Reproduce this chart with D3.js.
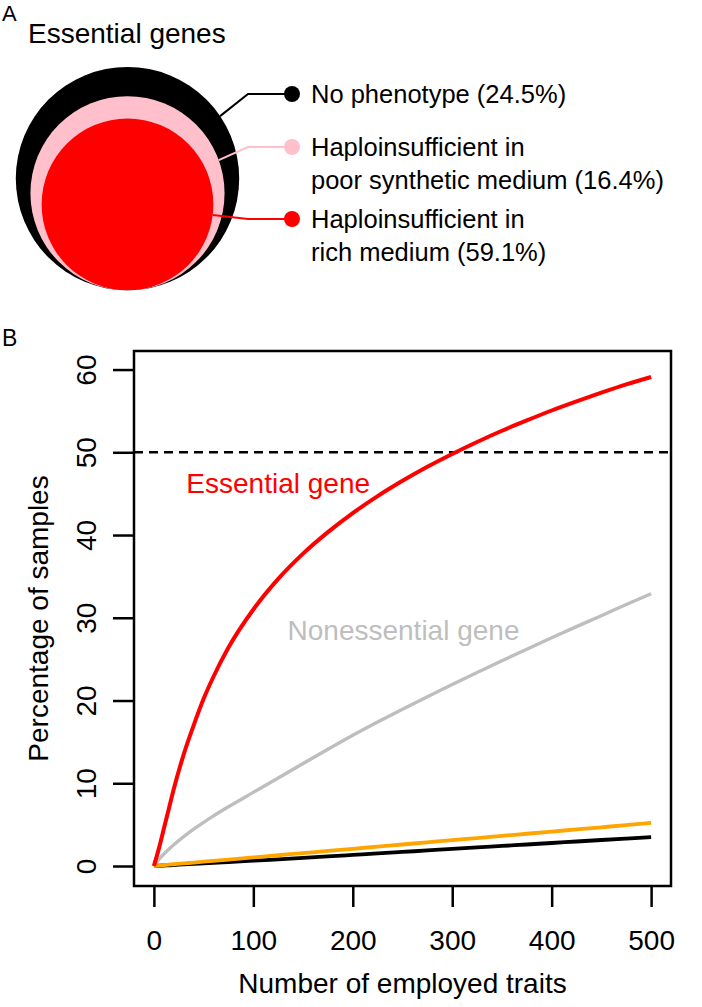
<!DOCTYPE html>
<html>
<head>
<meta charset="utf-8">
<script src="https://cdn.jsdelivr.net/npm/d3@7/dist/d3.min.js"></script>
<style>
  html, body { margin: 0; padding: 0; background: #fff; }
  svg { display: block; font-family: "Liberation Sans", Arial, Helvetica, sans-serif; }
</style>
</head>
<body>
<svg id="chart" width="702" height="1007"></svg>
<script>
// ---------- Panel A data ----------
const groupLabels = [
  ["No phenotype (24.5%)"],
  ["Haploinsufficient in", "poor synthetic medium (16.4%)"],
  ["Haploinsufficient in", "rich medium (59.1%)"]
];
const groupPercents = [24.5, 16.4, 59.1];   // black, pink, red
const groupColors = ["#000000", "#FFC0CB", "#FF0000"];

// ---------- Panel B data ----------
const traitCounts = [0, 5, 10, 15, 20, 30, 40, 50, 60, 75, 100, 125, 150, 175, 200, 225, 250, 275, 300, 325, 350, 375, 400, 425, 450, 475, 500];
const essentialPct = [0, 2.1, 4.5, 6.9, 9.3, 13.5, 17.0, 20.2, 22.9, 26.4, 31.0, 34.7, 37.75, 40.35, 42.65, 44.7, 46.55, 48.25, 49.8, 51.25, 52.6, 53.85, 55.05, 56.15, 57.2, 58.2, 59.1];
const nonessentialPct = [0, 0.8, 1.45, 2.03, 2.57, 3.55, 4.45, 5.28, 6.06, 7.16, 8.9, 10.63, 12.38, 14.1, 15.8, 17.4, 18.95, 20.45, 21.93, 23.38, 24.8, 26.2, 27.58, 28.93, 30.25, 31.6, 32.9];
const orangePct = [0, 0.05, 0.10, 0.16, 0.21, 0.31, 0.42, 0.52, 0.62, 0.78, 1.04, 1.30, 1.56, 1.82, 2.08, 2.34, 2.60, 2.86, 3.12, 3.38, 3.64, 3.90, 4.16, 4.42, 4.68, 4.94, 5.2];
const blackPct = [0, 0.03, 0.06, 0.09, 0.12, 0.19, 0.25, 0.32, 0.38, 0.48, 0.64, 0.81, 0.98, 1.16, 1.34, 1.52, 1.70, 1.88, 2.06, 2.24, 2.42, 2.60, 2.78, 2.96, 3.14, 3.32, 3.5];
const xTicks = [0, 100, 200, 300, 400, 500];
const yTicks = [0, 10, 20, 30, 40, 50, 60];
const thresholdPct = 50;
const seriesNames = ["Nonessential gene", "Black", "Orange", "Essential gene"];
const seriesColors = ["#BEBEBE", "#000000", "#FFA500", "#FF0000"];
const seriesWidths = [3.4, 3.8, 3.8, 4];
const curveLabels = [
  { text: "Essential gene", x: 125, y: 46.3, color: "#FF0000" },
  { text: "Nonessential gene", x: 251, y: 28.5, color: "#BEBEBE" }
];

const svg = d3.select("#chart");

// ================= Panel A =================
svg.append("text").attr("x", 2).attr("y", 21).attr("font-size", 22).text("A");
svg.append("text").attr("x", 28).attr("y", 43).attr("font-size", 28).text("Essential genes");

const cumulative = [100, groupPercents[1] + groupPercents[2], groupPercents[2]];
const rScale = d3.scaleSqrt().domain([0, 100]).range([0, 111.7]);
const cX = 127.5, bottomY = 290.3;

svg.append("g").selectAll("circle").data(cumulative).join("circle")
  .attr("cx", cX)
  .attr("cy", d => bottomY - rScale(d))
  .attr("r", d => rScale(d))
  .attr("fill", (d, i) => groupColors[i]);

const angles = [-34, -20, 7];
const dotYs = [94, 147, 219];
const dotX = 292, elbowX = 248;
cumulative.forEach((d, i) => {
  const r = rScale(d), cy = bottomY - r;
  const a = angles[i] * Math.PI / 180;
  const px = cX + r * Math.cos(a), py = cy + r * Math.sin(a);
  svg.append("path")
    .attr("d", `M${px},${py}L${elbowX},${dotYs[i]}L${dotX},${dotYs[i]}`)
    .attr("fill", "none").attr("stroke", groupColors[i]).attr("stroke-width", 2);
  svg.append("circle").attr("cx", dotX).attr("cy", dotYs[i]).attr("r", 8).attr("fill", groupColors[i]);
  const t = svg.append("text").attr("x", 311).attr("y", dotYs[i] + 9).attr("font-size", 25.5);
  groupLabels[i].forEach((line, j) => {
    t.append("tspan").attr("x", 311).attr("dy", j === 0 ? 0 : 33.3).text(line);
  });
});

// ================= Panel B =================
svg.append("text").attr("x", 2).attr("y", 346).attr("font-size", 23).text("B");

const pLeft = 134, pRight = 671, pTop = 351, pBottom = 886;
const x = d3.scaleLinear().domain([-20, 520]).range([pLeft, pRight]);
const y = d3.scaleLinear().domain([-2.4169, 62.2417]).range([pBottom, pTop]);

// axes
const xAxis = svg.append("g").attr("transform", `translate(0,${pBottom})`)
  .call(d3.axisBottom(x).tickValues(xTicks).tickSize(21).tickPadding(23).tickFormat(d3.format("d")));
xAxis.select(".domain").remove();
xAxis.attr("font-family", null).attr("font-size", null);
xAxis.selectAll(".tick line").attr("stroke", "#000").attr("stroke-width", 2.5);
xAxis.selectAll(".tick text").attr("font-size", 28).attr("fill", "#000");

const yAxis = svg.append("g").attr("transform", `translate(${pLeft},0)`)
  .call(d3.axisLeft(y).tickValues(yTicks).tickSize(21).tickFormat(d3.format("d")));
yAxis.select(".domain").remove();
yAxis.attr("font-family", null).attr("font-size", null);
yAxis.selectAll(".tick line").attr("stroke", "#000").attr("stroke-width", 2.5);
yAxis.selectAll(".tick text")
  .attr("font-size", 28).attr("fill", "#000")
  .attr("text-anchor", "middle").attr("x", 0).attr("y", -38).attr("dy", null)
  .attr("transform", "rotate(-90)");

// threshold dashed line
svg.append("line")
  .attr("x1", pLeft).attr("x2", pRight)
  .attr("y1", y(thresholdPct)).attr("y2", y(thresholdPct))
  .attr("stroke", "#000").attr("stroke-width", 2.5).attr("stroke-dasharray", "9,6");

// curves
const seriesData = [nonessentialPct, blackPct, orangePct, essentialPct];
const lineGen = d3.line().x((d, i) => x(traitCounts[i])).y(d => y(d)).curve(d3.curveMonotoneX);
svg.append("g").selectAll("path").data(seriesData).join("path")
  .attr("d", d => lineGen(d))
  .attr("fill", "none")
  .attr("stroke", (d, i) => seriesColors[i])
  .attr("stroke-width", (d, i) => seriesWidths[i])
  .attr("stroke-linejoin", "round");

// curve labels
svg.append("g").selectAll("text").data(curveLabels).join("text")
  .attr("x", d => x(d.x)).attr("y", d => y(d.y)).attr("dy", "0.35em")
  .attr("text-anchor", "middle").attr("font-size", 28).attr("fill", d => d.color)
  .text(d => d.text);

// frame
svg.append("rect").attr("x", pLeft).attr("y", pTop).attr("width", pRight - pLeft).attr("height", pBottom - pTop)
  .attr("fill", "none").attr("stroke", "#000").attr("stroke-width", 2.5);

// axis titles
svg.append("text").attr("x", (pLeft + pRight) / 2).attr("y", 993).attr("text-anchor", "middle")
  .attr("font-size", 28).text("Number of employed traits");
svg.append("text").attr("transform", `translate(48,${(pTop + pBottom) / 2}) rotate(-90)`)
  .attr("text-anchor", "middle").attr("font-size", 28).text("Percentage of samples");
</script>
</body>
</html>
